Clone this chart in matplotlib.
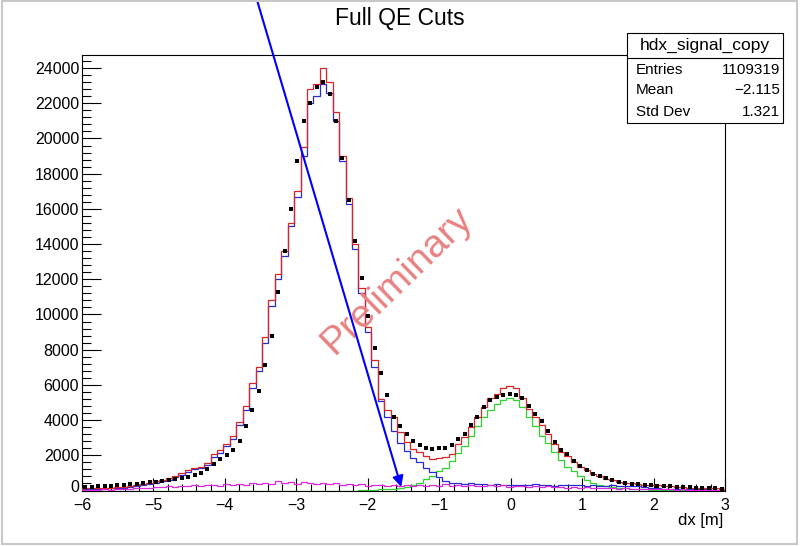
import numpy as np
import matplotlib
matplotlib.use("Agg")
import matplotlib.pyplot as plt
import matplotlib.transforms as mtransforms
from matplotlib.patches import Rectangle
from matplotlib.ticker import MultipleLocator

plt.rcParams['font.family'] = ['Liberation Sans', 'DejaVu Sans']

# binning of dx [m]
x_min, x_max, n_bins = -6.0, 3.0, 100

# data (black points)
data_counts = [
    180, 200, 230, 250, 270, 300, 320, 350, 380, 420,
    470, 510, 540, 590, 640, 690, 760, 860, 1010, 1220,
    1500, 1800, 2000, 2300, 2800, 3650, 4550, 5650, 7150, 8800,
    11250, 13600, 16000, 18700, 21000, 22000, 22900, 23200, 22500, 21000,
    18900, 16500, 14200, 12100, 9900, 8100, 6700, 5400, 4200, 3650,
    3200, 2800, 2600, 2400, 2360, 2400, 2430, 2590, 2900, 3220,
    3700, 4200, 4720, 5120, 5320, 5430, 5470, 5420, 5230, 4800,
    4350, 3950, 3380, 2750, 2300, 2050, 1650, 1380, 1150, 960,
    810, 700, 590, 500, 430, 390, 360, 330, 300, 280,
    265, 250, 220, 190, 180, 165, 160, 140, 125, 110,
]

# total (red)
total_counts = [
    120, 150, 130, 170, 150, 200, 180, 260, 300, 380,
    450, 560, 600, 720, 850, 1000, 1150, 1280, 1350, 1550,
    2050, 2300, 2650, 3100, 3900, 4800, 6100, 7000, 8700, 10800,
    12300, 13600, 15200, 17000, 19500, 22800, 23100, 24000, 23200, 21500,
    19000, 16600, 14000, 11500, 9300, 7400, 5200, 4600, 4200, 3350,
    2750, 2350, 2200, 1950, 1800, 1830, 1900, 2100, 2650, 3050,
    3600, 4200, 4750, 5250, 5500, 5800, 5950, 5850, 5250, 4650,
    4200, 3700, 3200, 2650, 2200, 1950, 1600, 1350, 1150, 950,
    820, 680, 590, 490, 440, 400, 370, 330, 310, 290,
    260, 240, 210, 190, 170, 160, 150, 130, 120, 100,
]

# proton-like component (blue)
blue_counts = [
    60, 80, 90, 100, 120, 150, 170, 200, 240, 290,
    350, 440, 520, 620, 760, 900, 1050, 1200, 1300, 1450,
    1900, 2150, 2500, 2950, 3700, 4550, 5800, 6800, 8400, 10500,
    12000, 13300, 15000, 16700, 19000, 22000, 22400, 23100, 22600, 21000,
    18700, 16300, 13700, 11200, 9000, 7000, 5100, 4200, 3400, 2700,
    2250, 1850, 1600, 1250, 1050, 780, 560, 450, 420, 380,
    420, 350, 380, 330, 350, 300, 340, 310, 330, 290,
    350, 300, 330, 280, 320, 290, 340, 300, 270, 310,
    280, 250, 300, 270, 260, 280, 230, 200, 160, 130,
    110, 100, 90, 80, 70, 60, 60, 50, 50, 40,
]

# neutron-like component (green)
green_counts = [
    0, 0, 0, 0, 0, 0, 0, 0, 0, 0,
    0, 0, 0, 0, 0, 0, 0, 0, 0, 0,
    0, 0, 0, 0, 0, 0, 0, 0, 0, 0,
    0, 0, 0, 0, 0, 0, 0, 0, 0, 0,
    0, 0, 0, 5, 20, 40, 60, 80, 110, 150,
    220, 300, 450, 650, 850, 1130, 1300, 1650, 2150, 2550,
    3100, 3650, 4150, 4600, 4900, 5150, 5250, 5150, 4750, 4200,
    3650, 3100, 2700, 2200, 1750, 1350, 1100, 820, 600, 440,
    330, 270, 210, 170, 130, 110, 80, 60, 45, 35,
    25, 20, 15, 12, 10, 8, 6, 5, 4, 3,
]

# background (magenta)
magenta_counts = [
    20, 40, 30, 60, 50, 80, 100, 90, 130, 120,
    160, 200, 180, 240, 200, 260, 230, 300, 250, 330,
    300, 280, 350, 320, 380, 340, 420, 360, 450, 380,
    520, 400, 460, 380, 500, 420, 380, 450, 350, 400,
    330, 380, 300, 350, 280, 330, 300, 260, 320, 250,
    300, 270, 330, 250, 300, 280, 350, 260, 300, 240,
    320, 270, 230, 290, 250, 300, 220, 270, 240, 200,
    260, 210, 230, 180, 220, 170, 200, 150, 180, 140,
    160, 120, 140, 110, 120, 90, 100, 80, 90, 70,
    60, 70, 50, 60, 40, 50, 40, 30, 40, 30,
]

stats_rows = [("Entries", "1109319"), ("Mean", "\u22122.115"), ("Std Dev", "1.321")]

W, H = 807, 546


def fx(px):
    return px / W


def fy(py):
    return 1 - py / H


edges = np.linspace(x_min, x_max, n_bins + 1)
centers = 0.5 * (edges[:-1] + edges[1:])

fig = plt.figure(figsize=(W / 100, H / 100), dpi=100)
ax = fig.add_axes([fx(82), fy(490.5), fx(725) - fx(82), fy(55) - fy(490.5)])

ax.stairs(green_counts, edges, color='#2fd42f', lw=0.9, zorder=2)
ax.stairs(blue_counts, edges, color='#2a2ad0', lw=0.9, zorder=3)
ax.stairs(total_counts, edges, color='#d82626', lw=0.9, zorder=4)
ax.stairs(magenta_counts, edges, color='#dc28dc', lw=0.9, zorder=5)
ax.plot(centers, data_counts, 's', color='black', ms=2.6, mew=0, zorder=6)

ax.set_xlim(x_min, x_max)
ax.set_ylim(0, 24744)

ax.xaxis.set_major_locator(MultipleLocator(1))
ax.xaxis.set_minor_locator(MultipleLocator(0.2))
ax.yaxis.set_major_locator(MultipleLocator(2000))
ax.yaxis.set_minor_locator(MultipleLocator(400))
ax.tick_params(axis='x', which='major', direction='in', length=9.4, width=0.8,
               labelsize=11.5, pad=5.5)
ax.tick_params(axis='x', which='minor', direction='in', length=4.7, width=0.8)
ax.tick_params(axis='y', which='major', direction='in', length=13.7, width=0.8,
               labelsize=11.5, pad=2)
ax.tick_params(axis='y', which='minor', direction='in', length=6.8, width=0.8)
for s in ax.spines.values():
    s.set_linewidth(0.8)

# lift the "0" label a little so it clears the "-6" label below it
fig.canvas.draw()
lift = mtransforms.ScaledTranslation(0, 3 / 72, fig.dpi_scale_trans)
for lab in ax.get_yticklabels():
    if lab.get_position()[1] == 0:
        lab.set_transform(lab.get_transform() + lift)

# watermark
ax.text(-1.59, 11960, "Preliminary", color='#e88282', fontsize=28,
        rotation=44, ha='center', va='center', zorder=7)

# blue arrow from above the frame
ax.annotate("", xy=(-1.532, 200), xycoords='data',
            xytext=(fx(254), fy(-10)), textcoords='figure fraction',
            arrowprops=dict(arrowstyle='-|>', color='#0000ff', lw=1.5,
                            mutation_scale=16, shrinkA=0, shrinkB=0),
            zorder=8, annotation_clip=False)

fig.text(fx(400), fy(19), "Full QE Cuts", fontsize=16.5, ha='center', va='center')
fig.text(fx(723), fy(520), "dx [m]", fontsize=12, ha='right', va='center')

# stats box
fig.patches.append(Rectangle((fx(627), fy(123)), fx(783) - fx(627), fy(33) - fy(123),
                             transform=fig.transFigure, facecolor='white',
                             edgecolor='black', lw=0.8, zorder=10))
fig.lines.append(plt.Line2D([fx(627), fx(783)], [fy(58), fy(58)],
                            transform=fig.transFigure, color='black', lw=0.8, zorder=11))
fig.text(fx(705), fy(45.5), "hdx_signal_copy", fontsize=12.5, ha='center', va='center', zorder=12)
for k, (name, val) in enumerate(stats_rows):
    yy = [70, 90.5, 112][k]
    fig.text(fx(636), fy(yy), name, fontsize=11, ha='left', va='center', zorder=12)
    fig.text(fx(780), fy(yy), val, fontsize=11, ha='right', va='center', zorder=12)

# screenshot border
fig.patches.append(Rectangle((fx(2), fy(544)), fx(797) - fx(2), fy(1) - fy(544),
                             transform=fig.transFigure, fill=False,
                             edgecolor='#c8c8c8', lw=1.5, zorder=0))

fig.savefig("out.png", dpi=100)
